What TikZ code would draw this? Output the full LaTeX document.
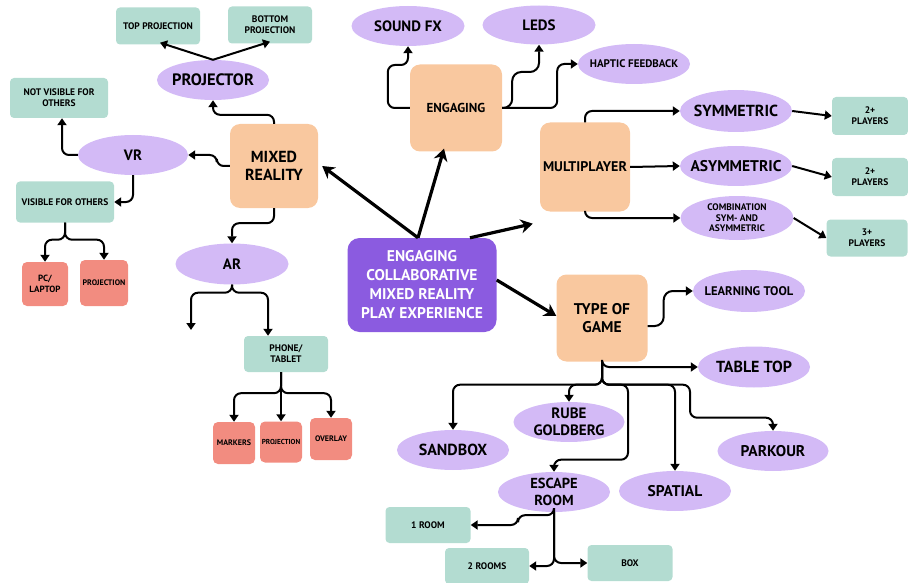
\documentclass[tikz,border=0pt]{standalone}
\usepackage{fontspec}
\setmainfont{PT Sans}
\usetikzlibrary{arrows.meta,shapes.geometric,calc}
\definecolor{lav}{RGB}{211,186,246}
\definecolor{tealc}{RGB}{179,220,209}
\definecolor{orangec}{RGB}{249,200,159}
\definecolor{salmon}{RGB}{242,140,128}
\definecolor{purplec}{RGB}{139,91,224}
\tikzset{
  every node/.style={align=center, text=black, inner sep=1pt},
  lavell/.style={ellipse, fill=lav, minimum width=112pt, minimum height=40pt, inner xsep=-16pt, inner ysep=-3pt, font=\bfseries\fontsize{15}{16}\selectfont},
  tbox/.style={rectangle, rounded corners=4pt, fill=tealc, minimum width=84pt, minimum height=37pt, font=\bfseries\fontsize{9.5}{11}\selectfont},
  obox/.style={rectangle, rounded corners=10pt, fill=orangec, minimum width=90pt, minimum height=86pt, font=\bfseries\fontsize{13}{15}\selectfont},
  sbox/.style={rectangle, rounded corners=5pt, fill=salmon, minimum width=44pt, minimum height=43pt, inner sep=0pt, font=\bfseries\fontsize{8}{10}\selectfont},
  ln/.style={line width=2pt, rounded corners=7pt, -{Triangle[width=9pt,length=7pt]}},
  big/.style={line width=3.2pt, -{Stealth[width=14pt,length=12pt]}},
}
\begin{document}
\begin{tikzpicture}[x=1pt,y=-1pt]
\useasboundingbox (0,0) rectangle (908,583);
% centre
\node[rectangle, rounded corners=12pt, fill=purplec, minimum width=149pt, minimum height=94pt, text=white, font=\bfseries\fontsize{15.5}{19}\selectfont] (ctr) at (422,285) {ENGAGING\\COLLABORATIVE\\MIXED REALITY\\PLAY EXPERIENCE};
% main orange boxes
\node[obox, minimum width=88pt, minimum height=84pt, font=\bfseries\fontsize{16}{18}\selectfont] (mr) at (274,166) {MIXED\\REALITY};
\node[obox, minimum width=92pt, minimum height=87pt] (eng) at (456,108) {ENGAGING};
\node[obox, minimum width=90pt, minimum height=89pt, font=\bfseries\fontsize{14}{16}\selectfont] (mp) at (585,167) {MULTIPLAYER};
\node[obox, minimum width=91pt, minimum height=87pt, font=\bfseries\fontsize{15.5}{18}\selectfont] (tog) at (602,318) {TYPE OF\\GAME};
% mixed reality branch
\node[lavell, font=\bfseries\fontsize{16.5}{18}\selectfont] (proj) at (213,80) {PROJECTOR};
\node[tbox] (tp) at (158,26) {TOP PROJECTION};
\node[tbox] (bp) at (270,25) {BOTTOM\\PROJECTION};
\node[lavell, minimum width=110pt] (vr) at (133,155) {VR};
\node[tbox, minimum width=98pt, minimum height=40pt] (nv) at (59,98) {NOT VISIBLE FOR\\OTHERS};
\node[tbox, minimum width=98pt, minimum height=41pt] (vis) at (65,202) {VISIBLE FOR OTHERS};
\node[sbox, minimum width=46pt, minimum height=44pt, font=\bfseries\fontsize{9}{11}\selectfont] (pc) at (45,284) {PC/\\LAPTOP};
\node[sbox, minimum width=48pt, minimum height=46pt] (pj1) at (104,283) {PROJECTION};
\node[lavell, minimum width=113pt, minimum height=41pt] (ar) at (232,264) {AR};
\coordinate (arl) at (191,330);
\node[tbox, minimum height=36pt] (ph) at (286,354) {PHONE/\\TABLET};
\node[sbox, minimum width=42pt, minimum height=42pt] (mk) at (234,443) {MARKERS};
\node[sbox, minimum width=42pt, minimum height=41pt, font=\bfseries\fontsize{7.2}{9}\selectfont] (pj2) at (281,442) {PROJECTION};
\node[sbox, minimum width=42pt, minimum height=42pt] (ov) at (331,439) {OVERLAY};
% engaging branch
\node[lavell, minimum width=113pt] (sfx) at (408,26) {SOUND FX};
\node[lavell, minimum width=113pt, minimum height=39pt] (leds) at (539,25) {LEDS};
\node[lavell, font=\bfseries\fontsize{11}{12}\selectfont] (hap) at (634,64) {HAPTIC FEEDBACK};
% multiplayer branch
\node[lavell, minimum height=42pt, font=\bfseries\fontsize{16}{18}\selectfont] (sym) at (736,111) {SYMMETRIC};
\node[lavell, font=\bfseries\fontsize{15.5}{18}\selectfont] (asym) at (736,166) {ASYMMETRIC};
\node[lavell, minimum width=113pt, minimum height=44pt, inner ysep=-5pt, font=\bfseries\fontsize{9.5}{10.5}\selectfont] (comb) at (737,218) {COMBINATION\\SYM- AND\\ASYMMETRIC};
\node[tbox, minimum width=76pt, minimum height=38pt] (p1) at (870,116) {2+\\PLAYERS};
\node[tbox, minimum width=76pt, minimum height=38pt] (p2) at (870,177) {2+\\PLAYERS};
\node[tbox, minimum width=81pt, minimum height=37pt] (p3) at (867,238) {3+\\PLAYERS};
% type of game branch
\node[lavell, minimum height=42pt, font=\bfseries\fontsize{12.5}{14}\selectfont] (learn) at (749,291) {LEARNING TOOL};
\node[lavell, minimum height=41pt, font=\bfseries\fontsize{16}{18}\selectfont] (tt) at (754,367) {TABLE TOP};
\node[lavell, minimum width=111pt, font=\bfseries\fontsize{15}{17}\selectfont] (rube) at (569,422) {RUBE\\GOLDBERG};
\node[lavell, font=\bfseries\fontsize{16}{18}\selectfont] (sand) at (453,450) {SANDBOX};
\node[lavell, minimum width=111pt, font=\bfseries\fontsize{15.5}{18}\selectfont] (park) at (773,451) {PARKOUR};
\node[lavell, font=\bfseries\fontsize{14.5}{17}\selectfont] (esc) at (554,492) {ESCAPE\\ROOM};
\node[lavell, font=\bfseries\fontsize{15.5}{18}\selectfont] (spat) at (675,491) {SPATIAL};
\node[tbox, minimum width=85pt, minimum height=36pt] (r1) at (428,525) {1 ROOM};
\node[tbox, minimum width=84pt, minimum height=36pt] (r2) at (487,566) {2 ROOMS};
\node[tbox, minimum width=85pt, minimum height=36pt] (bx) at (630,563) {BOX};
% big arrows from centre
\draw[big] ([xshift=-4pt]ctr.north) -- ([xshift=4pt]mr.east);
\draw[big] ([xshift=-4pt]ctr.north) -- ([xshift=-12pt,yshift=3pt]eng.south);
\draw[big] ([xshift=48pt]ctr.north) -- ([xshift=-7pt,yshift=-12pt]mp.south west);
\draw[big] ([yshift=5pt]ctr.east) -- ([yshift=2pt]tog.west);
% mixed reality connectors
\draw[ln] (mr.north) -- ++(0,-9) -| (proj.south);
\draw[ln] (proj.north) -- ([xshift=2pt,yshift=2pt]tp.south);
\draw[ln] (proj.north) -- ([yshift=2pt]bp.south);
\draw[ln] (mr.west) -- ++(-13,0) |- (vr.east);
\draw[ln] (vr.west) -| ([xshift=3pt]nv.south);
\draw[ln] (vr.south) |- (vis.east);
\draw[ln] (vis.south) -- ++(0,17) -| (pc.north);
\draw[ln] (vis.south) -- ++(0,17) -| (pj1.north);
\draw[ln] (mr.south) -- ++(0,15) -| (ar.north);
\draw[ln] (ar.south) -- ++(0,8) -| (arl);
\draw[ln] (ar.south) -- ++(0,8) -| ([xshift=-18pt]ph.north);
\draw[ln] ([xshift=-5pt]ph.south) -- ++(0,21) -| (mk.north);
\draw[ln] ([xshift=-5pt]ph.south) -- (pj2.north);
\draw[ln] ([xshift=-5pt]ph.south) -- ++(0,21) -| (ov.north);
% engaging connectors
\draw[ln] (eng.west) -- ++(-22,0) -- ++(0,-43) -| (sfx.south);
\draw[ln, rounded corners=9pt] (eng.east) -- ++(10,0) -- ++(0,-36) -| (leds.south);
\draw[ln] (eng.east) -- ++(55,0) |- (hap.west);
% multiplayer connectors
\draw[ln] (mp.north) |- (sym.west);
\draw[ln] (mp.east) -- (asym.west);
\draw[ln] (mp.south) |- (comb.west);
\draw[ln] (sym.east) -- (p1.west);
\draw[ln] (asym.east) -- (p2.west);
\draw[ln] (comb.east) -- (p3.west);
% type of game connectors
\draw[ln, rounded corners=9pt] ([yshift=-8pt]tog.east) -- ++(16,0) |- (learn.west);
\draw[ln] (tog.south) |- (tt.west);
\draw[ln] (tog.south) -- ++(0,23) -| (sand.north);
\draw[ln] (tog.south) -- ++(0,23) -| (rube.north);
\draw[ln] (tog.south) -- ++(0,23) -- ++(26,0) -- ++(0,75) -| (esc.north);
\draw[ln] (tog.south) -- ++(0,23) -| (spat.north);
\draw[ln] (tog.south) -- ++(0,23) -- ++(88,0) -- ++(0,33) -| (park.north);
% escape room connectors
\draw[ln] (esc.south) -- ++(0,3) -- ++(-36,0) |- (r1.east);
\draw[ln] (esc.south) |- (r2.east);
\draw[ln] (esc.south) |- (bx.west);
\end{tikzpicture}
\end{document}
